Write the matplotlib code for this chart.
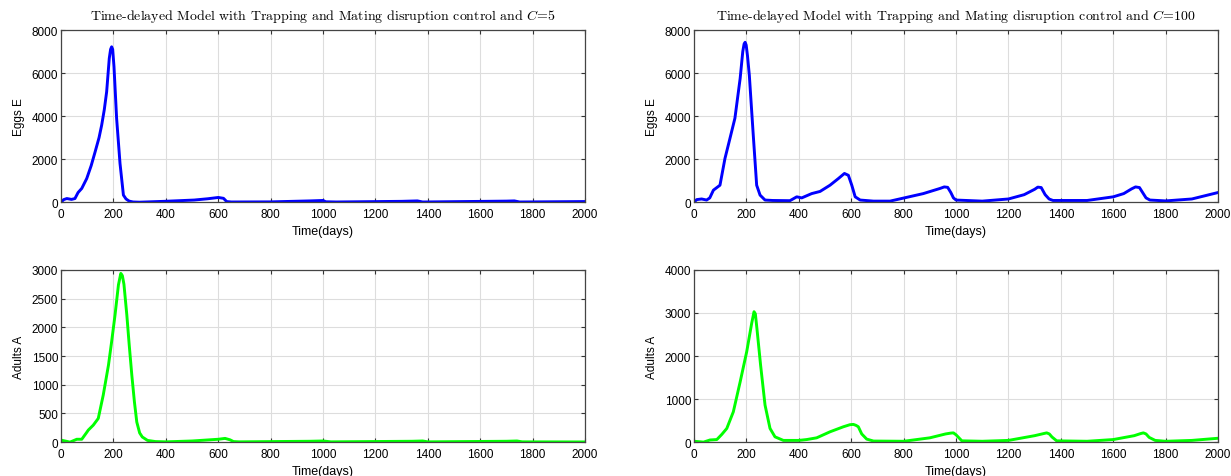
import matplotlib
matplotlib.use("Agg")
import matplotlib.pyplot as plt

plt.rcParams['font.family'] = ['Liberation Sans', 'DejaVu Sans']
plt.rcParams['mathtext.fontset'] = 'cm'

# eggs, C=5
t_e5 = [0, 10, 22, 40, 53, 65, 79, 98, 115, 130, 145, 155, 165, 174, 184, 189, 193, 197, 202,
        212, 225, 238, 248, 260, 275, 300, 393, 508, 560, 600, 620, 632, 650, 800, 950, 1000, 1010,
        1050, 1300, 1360, 1380, 1700, 1730, 1750, 2000]
e5 = [0, 120, 170, 130, 170, 450, 640, 1100, 1700, 2340, 3000, 3580, 4300, 5130, 6680, 7100, 7220,
      7100, 6300, 3900, 1800, 330, 150, 50, 10, 0, 40, 100, 160, 220, 180, 30, 10, 15, 60, 80, 20,
      10, 40, 60, 10, 50, 60, 10, 30]

# eggs, C=100
t_e100 = [0, 10, 29, 48, 60, 74, 99, 118, 137, 156, 176, 186, 191, 195, 199, 204, 211, 226, 239,
          252, 271, 300, 366, 392, 411, 449, 481, 519, 551, 574, 589, 602, 615, 634, 685, 748, 875,
          939, 955, 968, 980, 990, 1000, 1100, 1200, 1260, 1300, 1312, 1325, 1340, 1355, 1370, 1500,
          1600, 1640, 1670, 1685, 1700, 1712, 1725, 1740, 1800, 1900, 2000]
e100 = [0, 120, 150, 100, 200, 560, 790, 2030, 2960, 3900, 5750, 7000, 7350, 7430, 7300, 6800, 5900,
        3120, 790, 330, 100, 80, 70, 250, 200, 400, 500, 790, 1100, 1335, 1250, 790, 250, 100, 50,
        50, 400, 640, 710, 690, 450, 200, 100, 50, 150, 350, 600, 700, 680, 350, 150, 80, 80,
        250, 400, 620, 710, 680, 450, 200, 100, 60, 150, 450]

# adults, C=5
t_a5 = [0, 20, 34, 60, 79, 98, 104, 123, 142, 161, 181, 193, 206, 219, 228, 234, 240, 251, 260,
        270, 280, 289, 300, 310, 330, 360, 400, 500, 600, 626, 645, 658, 680, 950, 1000, 1030,
        1340, 1380, 1400, 1700, 1740, 1760, 2000]
a5 = [35, 15, 0, 50, 50, 170, 210, 296, 413, 820, 1343, 1750, 2215, 2740, 2940, 2900, 2750, 2215,
      1700, 1170, 700, 350, 160, 90, 30, 10, 5, 20, 50, 65, 40, 10, 5, 15, 20, 5, 15, 20, 5, 15,
      20, 5, 3]

# adults, C=100
t_a100 = [0, 20, 36, 61, 87, 106, 125, 150, 176, 201, 220, 229, 234, 240, 254, 271, 290, 309, 341,
          400, 430, 468, 519, 570, 595, 608, 618, 627, 640, 659, 685, 800, 900, 960, 980, 990,
          1000, 1022, 1100, 1200, 1300, 1335, 1346, 1356, 1366, 1384, 1500, 1600, 1680, 1705, 1715,
          1725, 1737, 1760, 1800, 1900, 2000]
a100 = [20, 10, 0, 50, 60, 180, 318, 705, 1400, 2100, 2760, 3030, 2980, 2640, 1790, 860, 318, 123,
        40, 40, 60, 100, 240, 357, 405, 412, 390, 357, 190, 70, 25, 20, 100, 190, 210, 215, 170,
        30, 20, 40, 150, 200, 215, 190, 120, 30, 20, 60, 150, 200, 215, 190, 110, 40, 20, 40, 90]

x_ticks = list(range(0, 2001, 200))

fig = plt.figure(figsize=(12.31, 4.77), dpi=100)
lefts = [0.0496, 0.5638]
w = 0.4257
h = 0.361

panels = [
    (lefts[0], 0.574, t_e5, e5, 'b', 'Eggs E', [0, 8000], range(0, 8001, 2000),
     r'Time-delayed Model with Trapping and Mating disruption control and $C$=5'),
    (lefts[1], 0.574, t_e100, e100, 'b', 'Eggs E', [0, 8000], range(0, 8001, 2000),
     r'Time-delayed Model with Trapping and Mating disruption control and $C$=100'),
    (lefts[0], 0.071, t_a5, a5, '#00ff00', 'Adults A', [0, 3000], range(0, 3001, 500), None),
    (lefts[1], 0.071, t_a100, a100, '#00ff00', 'Adults A', [0, 4000], range(0, 4001, 1000), None),
]

for left, bottom, t, y, col, ylab, ylim, yt, title in panels:
    ax = fig.add_axes([left, bottom, w, h])
    ax.plot(t, y, color=col, lw=2.1, solid_joinstyle='round')
    ax.set_xlim(0, 2000)
    ax.set_ylim(*ylim)
    ax.set_xticks(x_ticks)
    ax.set_yticks(list(yt))
    ax.grid(True, color='#dddddd', lw=0.8)
    ax.set_axisbelow(True)
    ax.tick_params(direction='in', top=True, right=True, labelsize=8.5, length=3,
                   color='#333333', pad=2)
    ax.tick_params(axis='x', pad=4.5)
    for s in ax.spines.values():
        s.set_color('#444444')
        s.set_linewidth(0.9)
    ax.set_xlabel('Time(days)', fontsize=9, labelpad=3)
    ax.set_ylabel(ylab, fontsize=8.5, labelpad=5)
    if title:
        ax.set_title(title, fontsize=10, family=['cmr10', 'DejaVu Serif'], pad=8)

fig.savefig('out.png', dpi=100)
